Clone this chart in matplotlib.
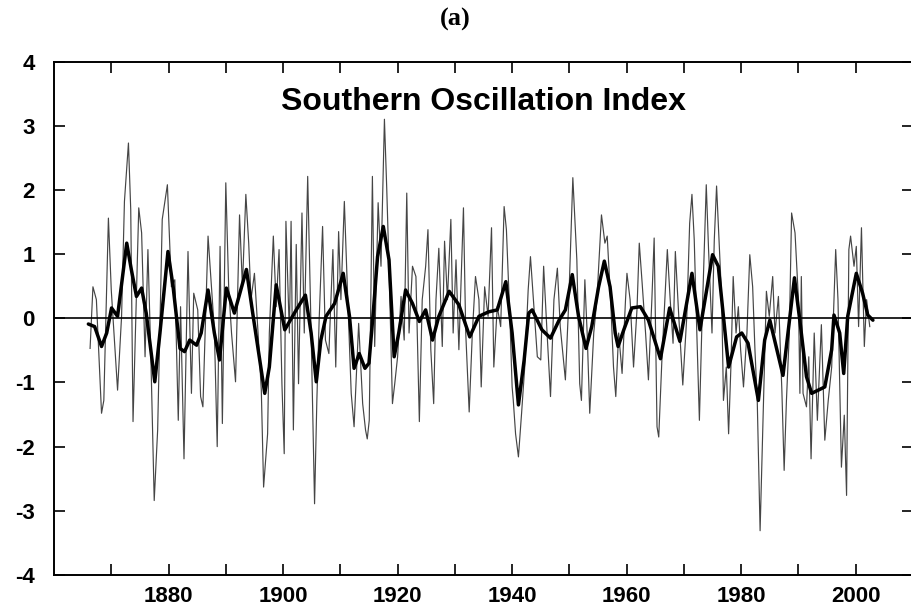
import matplotlib
matplotlib.use("Agg")
import matplotlib.pyplot as plt

plt.rcParams['axes.unicode_minus'] = False

# Monthly-ish SOI (thin line)
soi_years = [
    1866.3, 1866.8, 1867.4, 1868.3, 1868.7, 1869.5, 1870.0, 1871.1, 1871.8, 1872.3,
    1873.0, 1873.4, 1873.8, 1874.8, 1875.3, 1875.9, 1876.4, 1876.9, 1877.5, 1878.1,
    1878.9, 1879.8, 1880.5, 1881.1, 1881.7, 1882.1, 1882.7, 1883.4, 1884.0, 1884.4,
    1885.1, 1885.6, 1886.0, 1886.9, 1888.0, 1888.5, 1889.0, 1889.4, 1890.0, 1890.5,
    1891.0, 1891.7, 1892.4, 1892.9, 1893.5, 1894.0, 1894.4, 1895.0, 1895.6, 1896.2,
    1896.6, 1897.3, 1897.6, 1898.3, 1898.8, 1899.3, 1899.8, 1900.2, 1900.5, 1901.1,
    1901.4, 1901.8, 1902.3, 1902.7, 1903.3, 1903.7, 1904.3, 1904.9, 1905.5, 1905.9,
    1906.3, 1906.9, 1907.4, 1908.0, 1908.7, 1909.2, 1909.7, 1910.1, 1910.7, 1911.3,
    1911.9, 1912.4, 1913.2, 1913.9, 1914.4, 1914.7, 1915.05, 1915.6, 1916.0, 1916.6,
    1917.1, 1917.7, 1918.1, 1918.5, 1919.1, 1919.5, 1920.0, 1920.6, 1921.15, 1921.6,
    1922.0, 1922.6, 1923.2, 1923.8, 1924.3, 1924.9, 1925.3, 1925.8, 1926.3, 1926.7,
    1927.2, 1927.8, 1928.2, 1928.7, 1929.3, 1929.7, 1930.2, 1930.7, 1931.5, 1931.9,
    1932.5, 1933.05, 1933.6, 1934.2, 1934.6, 1935.2, 1935.8, 1936.4, 1936.8, 1937.4,
    1938.0, 1938.6, 1939.0, 1939.6, 1940.0, 1940.2, 1940.6, 1941.1, 1941.65, 1942.2,
    1942.8, 1943.2, 1943.8, 1944.4, 1945.0, 1945.5, 1946.1, 1946.7, 1947.3, 1947.9,
    1948.4, 1949.3, 1949.9, 1950.6, 1950.9, 1951.3, 1951.8, 1952.1, 1952.7, 1953.1,
    1953.55, 1954.25, 1954.8, 1955.6, 1956.2, 1956.6, 1957.2, 1957.7, 1958.1, 1958.6,
    1959.2, 1959.8, 1960.05, 1960.6, 1961.2, 1961.8, 1962.2, 1962.7, 1963.3, 1963.8,
    1964.4, 1964.8, 1965.3, 1965.6, 1966.15, 1967.1, 1967.6, 1968.1, 1968.5, 1969.1,
    1969.8, 1970.5, 1971.0, 1971.4, 1971.8, 1972.25, 1972.7, 1973.1, 1973.9, 1974.3,
    1974.9, 1975.3, 1975.7, 1976.2, 1976.6, 1976.9, 1977.4, 1977.8, 1978.2, 1978.6,
    1979.1, 1979.5, 1979.9, 1980.4, 1981.0, 1981.5, 1982.0, 1982.4, 1982.8, 1983.3,
    1983.75, 1984.2, 1984.4, 1984.9, 1985.5, 1985.9, 1986.5, 1987.1, 1987.5, 1987.9,
    1988.4, 1988.8, 1989.4, 1990.0, 1990.25, 1990.5, 1990.8, 1991.4, 1991.8, 1992.2,
    1992.75, 1993.3, 1994.0, 1994.6, 1995.2, 1995.8, 1996.5, 1996.9, 1997.5, 1998.0,
    1998.4, 1998.8, 1999.1, 1999.7, 2000.1, 2000.5, 2001.0, 2001.5, 2001.9, 2002.45,
]
soi_values = [
    -0.47, 0.49, 0.29, -1.48, -1.28, 1.56, 0.44, -1.12, 0.03, 1.82,
    2.73, 1.69, -1.61, 1.72, 1.33, -0.60, 1.07, -0.55, -2.84, -1.74,
    1.54, 2.08, 0.49, 0.60, -1.59, 0.18, -2.19, 1.04, -1.17, 0.39,
    0.13, -1.22, -1.38, 1.28, -0.18, -2.00, 1.12, -1.64, 2.11, 0.49,
    -0.23, -0.99, 1.61, 0.49, 1.93, 1.17, 0.29, 0.70, -0.18, -1.12,
    -2.63, -1.80, -0.23, 1.28, 0.18, 1.07, -1.02, -2.11, 1.51, -0.23,
    1.51, -1.74, 1.15, -1.02, 1.64, -0.23, 2.21, -0.23, -2.89, -1.28,
    -0.03, 1.43, -0.34, -0.55, 1.07, -0.76, 1.35, 0.29, 1.82, 0.29,
    -1.17, -1.69, -0.08, -1.33, -1.74, -1.88, -1.59, 2.21, -0.44, 1.80,
    0.81, 3.10, 2.03, 0.81, -1.33, -1.02, -0.60, 0.34, -0.34, 1.95,
    -0.23, 0.81, 0.65, -1.61, 0.29, 0.81, 1.38, -0.49, -1.33, 0.29,
    1.09, -0.44, 1.20, 0.29, 1.54, -0.23, 0.91, -0.49, 1.72, -0.23,
    -1.46, -0.23, 0.65, 0.29, -1.07, 0.49, 0.03, 1.41, -0.76, 0.18,
    -0.13, 1.74, 1.38, 0.03, -1.07, -1.28, -1.80, -2.16, -1.48, -0.76,
    0.44, 0.96, 0.18, -0.60, -0.65, 0.81, -0.23, -1.22, 0.29, 0.78,
    -0.13, -0.96, 0.29, 2.19, 1.64, 0.91, -1.02, -1.28, 0.60, -0.23,
    -1.48, -0.23, 0.29, 1.61, 1.17, 1.28, 0.29, -0.76, -1.22, -0.23,
    -0.86, 0.29, 0.70, 0.29, -0.76, 0.13, 1.17, 0.55, -0.23, -0.96,
    0.29, 1.25, -1.69, -1.85, -0.65, 1.07, 0.29, -0.39, 1.04, 0.03,
    -1.04, 0.03, 1.48, 1.93, 1.22, -0.23, -1.59, -0.23, 2.08, 1.07,
    -0.23, 1.22, 2.06, 1.07, 0.29, -1.28, -0.76, -1.80, -0.76, 0.65,
    -0.23, 0.18, -0.49, -1.07, -0.23, 0.99, 0.49, -0.49, -1.28, -3.31,
    -1.80, -0.23, 0.42, 0.03, 0.65, -0.23, 0.34, -1.12, -2.37, -1.28,
    -0.23, 1.64, 1.33, 0.29, -1.17, 0.65, -1.17, -1.38, -0.60, -2.19,
    -0.23, -1.59, -0.10, -1.90, -1.28, -0.76, 1.07, 0.29, -2.32, -1.51,
    -2.76, 1.07, 1.28, 0.81, 1.12, -0.13, 1.41, -0.44, 0.29, -0.13,
]

# Smoothed SOI (thick line)
smooth_years = [
    1866.0, 1867.1, 1868.3, 1869.2, 1870.05, 1871.1, 1872.7, 1873.5, 1874.4, 1875.3,
    1876.1, 1877.6, 1878.5, 1879.9, 1880.8, 1882.0, 1882.8, 1883.7, 1884.9, 1885.7,
    1886.9, 1888.0, 1888.9, 1890.1, 1891.5, 1893.6, 1894.7, 1896.8, 1897.6, 1898.8,
    1900.3, 1902.3, 1903.9, 1904.9, 1905.8, 1906.6, 1907.5, 1909.0, 1910.5, 1911.6,
    1912.4, 1913.3, 1914.3, 1915.0, 1915.8, 1916.5, 1917.5, 1918.5, 1919.4, 1920.2,
    1921.4, 1922.6, 1923.8, 1924.9, 1926.1, 1927.2, 1929.0, 1930.7, 1932.6, 1934.2,
    1935.9, 1937.4, 1938.9, 1940.0, 1941.1, 1942.1, 1942.9, 1943.5, 1945.2, 1946.7,
    1948.2, 1949.3, 1950.5, 1951.6, 1952.9, 1953.9, 1955.1, 1956.1, 1957.1, 1958.0,
    1958.5, 1959.5, 1960.9, 1962.4, 1963.8, 1965.9, 1967.5, 1969.3, 1971.4, 1972.8,
    1975.0, 1976.0, 1977.8, 1979.2, 1980.1, 1981.2, 1983.0, 1984.1, 1985.0, 1987.3,
    1989.3, 1990.3, 1991.4, 1992.3, 1994.6, 1995.8, 1996.2, 1997.2, 1997.9, 1998.6,
    2000.1, 2001.2, 2002.1, 2003.0,
]
smooth_values = [
    -0.09, -0.13, -0.44, -0.23, 0.16, 0.03, 1.17, 0.76, 0.34, 0.47,
    0.08, -0.99, -0.23, 1.04, 0.49, -0.47, -0.52, -0.34, -0.42, -0.23,
    0.44, -0.23, -0.65, 0.47, 0.08, 0.76, 0.08, -1.17, -0.76, 0.52,
    -0.18, 0.13, 0.36, -0.23, -0.99, -0.34, 0.03, 0.23, 0.70, 0.03,
    -0.78, -0.55, -0.78, -0.70, 0.15, 0.96, 1.43, 0.91, -0.60, -0.23,
    0.44, 0.23, -0.05, 0.13, -0.34, 0.03, 0.42, 0.21, -0.29, 0.03,
    0.10, 0.13, 0.57, -0.23, -1.35, -0.65, 0.08, 0.13, -0.18, -0.31,
    -0.03, 0.13, 0.68, 0.03, -0.47, -0.13, 0.49, 0.89, 0.49, -0.23,
    -0.44, -0.18, 0.16, 0.18, -0.03, -0.63, 0.16, -0.36, 0.70, -0.18,
    0.99, 0.81, -0.76, -0.29, -0.23, -0.39, -1.28, -0.34, -0.03, -0.89,
    0.63, -0.08, -0.91, -1.17, -1.07, -0.49, 0.05, -0.23, -0.86, 0.03,
    0.70, 0.39, 0.05, -0.03,
]

x_ticks = list(range(1870, 2001, 10))
x_labels = {1880: "1880", 1900: "1900", 1920: "1920", 1940: "1940",
            1960: "1960", 1980: "1980", 2000: "2000"}
y_ticks = [-4, -3, -2, -1, 0, 1, 2, 3, 4]

fig = plt.figure(figsize=(9.11, 6.10), dpi=100)
W, H = 911, 610
left_px, right_px, top_px, bottom_px = 54, 913, 61.5, 575
ax = fig.add_axes([left_px / W, 1 - bottom_px / H,
                   (right_px - left_px) / W, (bottom_px - top_px) / H])

ax.plot(soi_years, soi_values, color="#454545", lw=0.85, zorder=2)
ax.axhline(0, color="black", lw=1.2, zorder=3)
ax.plot(smooth_years, smooth_values, color="black", lw=2.5, zorder=4,
        solid_joinstyle="round", solid_capstyle="round")

ax.set_xlim(1860, 2010)
ax.set_ylim(-4, 4)
ax.set_xticks(x_ticks)
ax.set_xticklabels([x_labels.get(t, "") for t in x_ticks])
ax.set_yticks(y_ticks)
ax.set_yticklabels([str(v) for v in y_ticks])

ax.tick_params(axis="both", direction="in", length=8, width=1.2,
               top=True, right=True)
ax.tick_params(axis="x", pad=8)
ax.tick_params(axis="y", pad=14)
for lab in ax.get_xticklabels() + ax.get_yticklabels():
    lab.set_fontfamily("Liberation Sans")
    lab.set_fontweight("bold")
    lab.set_fontsize(16)
for sp in ax.spines.values():
    sp.set_linewidth(1.4)

ax.text(0.5, 0.922, "Southern Oscillation Index", transform=ax.transAxes,
        ha="center", va="center", fontsize=23, fontweight="bold",
        family="Liberation Sans")

fig.text(0.5, 1 - 19 / H, "(a)", ha="center", va="center", fontsize=19,
         fontweight="bold", family="Liberation Serif")

fig.savefig("out.png", dpi=100)
